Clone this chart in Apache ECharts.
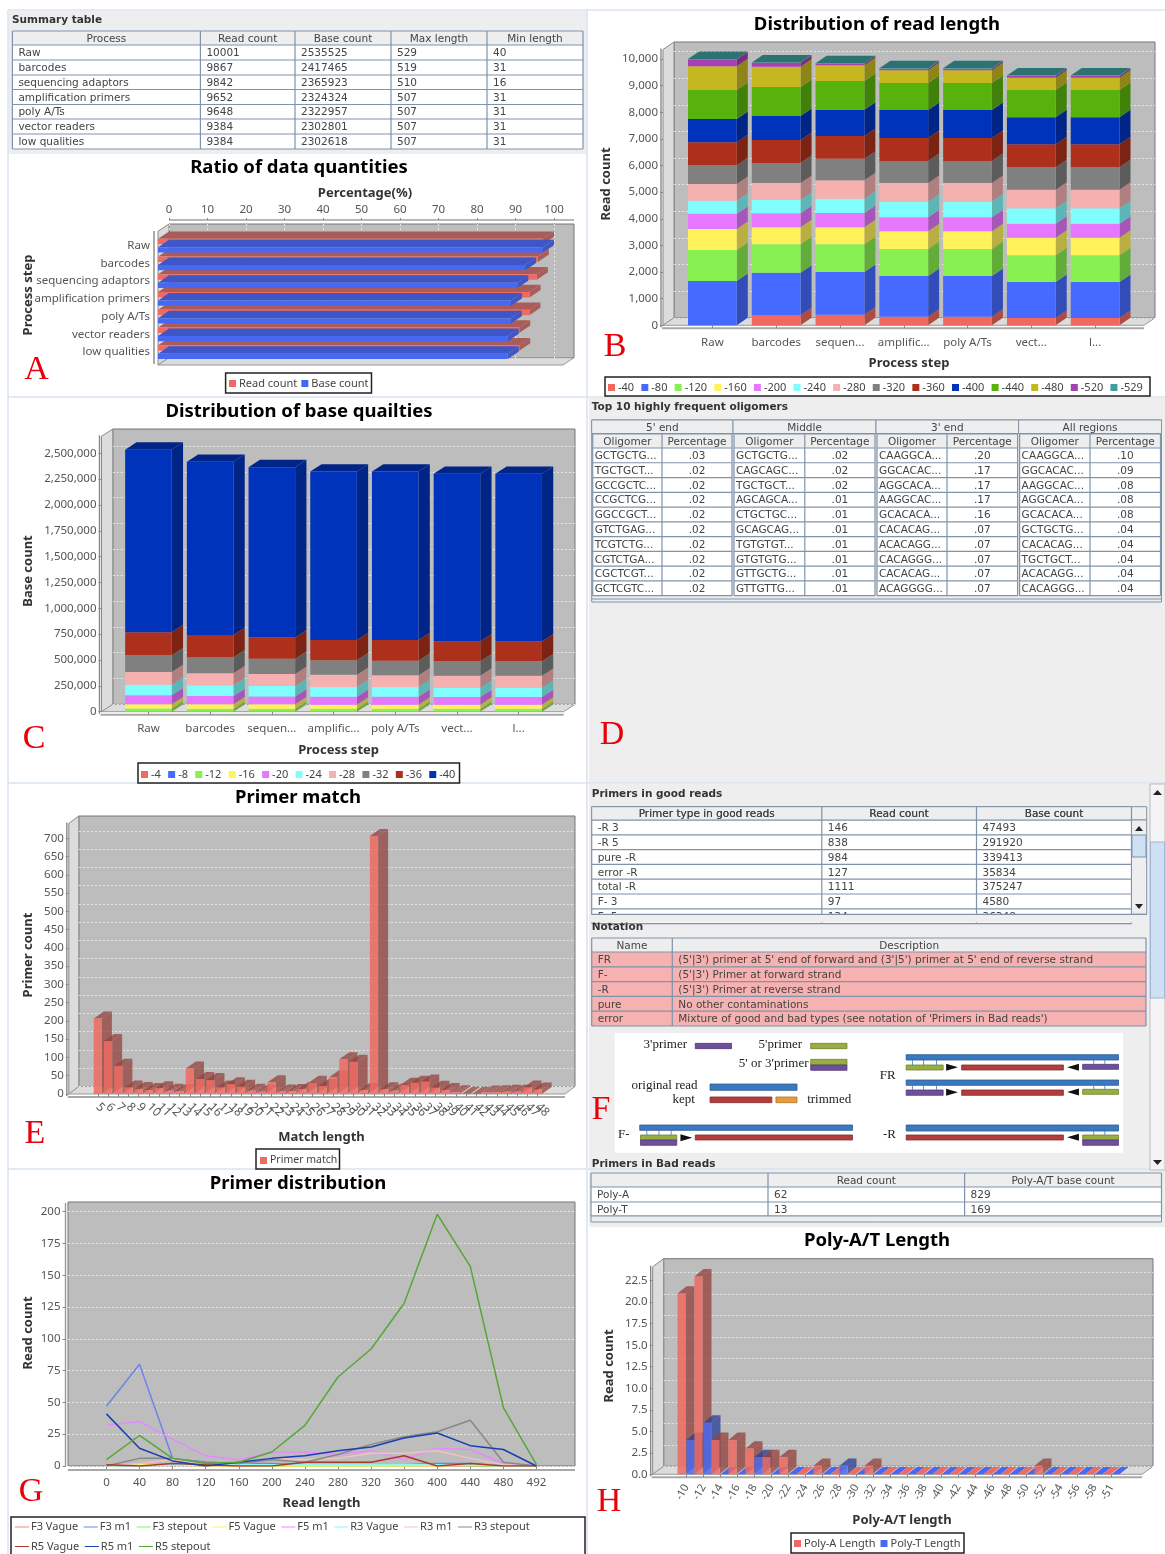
<!DOCTYPE html>
<html><head><meta charset="utf-8">
<style>html,body{margin:0;padding:0;background:#fff;overflow:hidden}#c{width:1165px;height:1554px;filter:blur(.4px)}</style>
<script src="https://cdn.jsdelivr.net/npm/echarts@6/dist/echarts.min.js"></script>
</head><body><div id="c"></div>
<script>
// ---------- DATA ----------
const stepFull=['Raw','barcodes','sequencing adaptors','amplification primers','poly A/Ts','vector readers','low qualities'];
const stepShort=['Raw','barcodes','sequen...','amplific...','poly A/Ts','vect...','l...'];
const readCount=[10001,9867,9842,9652,9648,9384,9384];
const baseCount=[2535525,2417465,2365923,2324324,2322957,2302801,2302618];
const maxLength=[529,519,510,507,507,507,507];
const minLength=[40,31,16,31,31,31,31];
const readPct=[100,98.66,98.41,96.51,96.47,93.83,93.83];
const basePct=[100,95.35,93.31,91.67,91.62,90.82,90.82];

const lengthBins=['-40','-80','-120','-160','-200','-240','-280','-320','-360','-400','-440','-480','-520','-529'];
const len40=[0,375,400,325,325,275,275];
const len80=[1665,1602,1603,1527,1527,1352,1352];
const len120=[1164,1064,1038,1014,1014,1001,1001];
const len160=[788,639,639,663,663,664,664];
const len200=[576,525,538,526,526,525,525];
const len240=[488,513,538,588,588,576,576];
const len280=[626,626,688,701,701,701,701];
const len320=[701,751,814,826,826,838,838];
const len360=[863,864,851,864,864,864,864];
const len400=[876,901,989,1051,1051,1014,1014];
const len440=[1089,1089,1076,1014,1014,1026,1026];
const len480=[889,763,588,476,476,463,463];
const len520=[262,150,68,62,59,63,63];
const len529=[14,5,12,15,14,22,22];

const qualBins=['-4','-8','-12','-16','-20','-24','-28','-32','-36','-40'];
const q4=[1000,1000,1000,1000,1000,1000,1000];
const q8=[2000,2000,2000,2000,2000,2000,2000];
const q12=[29000,26000,26000,26000,26000,26000,26000];
const q16=[39000,42000,42000,39000,39000,39000,39000];
const q20=[87000,81000,77000,77000,77000,74000,74000];
const q24=[103000,103000,100000,94000,94000,90000,90000];
const q28=[123000,116000,117000,119000,113000,116000,116000];
const q32=[161000,155000,148000,139000,142000,139000,139000];
const q36=[223000,216000,206000,197000,200000,194000,194000];
const q40=[1767525,1675465,1646923,1630324,1628957,1621801,1621618];

const matchLen=[5,6,7,8,9,10,11,12,13,14,15,16,17,18,19,20,21,22,23,24,25,26,27,28,29,30,31,32,33,34,35,36,37,38,39,40,41,42,43,44,45,46,47,48];
const primerMatch=[207,145,77,18,14,11,16,9,8,70,41,38,18,27,20,9,6,32,7,8,14,31,22,46,95,88,11,706,13,9,25,31,34,17,11,5,1,1,4,5,6,6,18,12];

const readLenCats=['0','40','80','120','160','200','240','280','320','360','400','440','480','492'];
const f3Vague=[0,0,1,0,0,1,1,1,1,0,0,0,0,0];
const f3m1=[47,80,6,3,2,2,1,1,1,1,2,2,0,0];
const f3Step=[0,1,1,1,2,0,0,0,0,0,1,0,0,0];
const f5Vague=[0,1,1,0,0,0,0,0,0,0,0,1,0,0];
const f5m1=[32,35,21,8,5,11,11,9,12,5,14,13,2,0];
const r3Vague=[0,0,1,1,1,1,1,1,1,1,1,1,0,0];
const r3m1=[0,2,5,2,2,6,5,6,10,10,12,6,1,0];
const r3Step=[0,6,6,3,2,5,3,9,17,23,27,36,3,0];
const r5Vague=[1,0,2,1,0,0,3,3,3,8,0,2,0,0];
const r5m1=[41,14,4,0,3,6,8,12,15,22,26,16,13,0];
const r5Step=[5,24,6,2,3,11,32,70,92,128,198,157,46,1];

const polyCats=['-10','-12','-14','-16','-18','-20','-22','-24','-26','-28','-30','-32','-34','-36','-38','-40','-42','-44','-46','-48','-50','-52','-54','-56','-58','-51'];
const polyA=[21,23,4,4,3,2,2,0,1,0,0,1,0,0,0,0,0,0,0,0,0,1,0,0,0,0];
const polyT=[4,6,0,0,2,0,0,0,0,1,0,0,0,0,0,0,0,0,0,0,0,0,0,0,0,0];

const summaryHead=['Process','Read count','Base count','Max length','Min length'];
const oligoGroups=["5' end",'Middle',"3' end",'All regions'];
const oligo5=['GCTGCTG...','TGCTGCT...','GCCGCTC...','CCGCTCG...','GGCCGCT...','GTCTGAG...','TCGTCTG...','CGTCTGA...','CGCTCGT...','GCTCGTC...'];
const pct5=['.03','.02','.02','.02','.02','.02','.02','.02','.02','.02'];
const oligoM=['GCTGCTG...','CAGCAGC...','TGCTGCT...','AGCAGCA...','CTGCTGC...','GCAGCAG...','TGTGTGT...','GTGTGTG...','GTTGCTG...','GTTGTTG...'];
const pctM=['.02','.02','.02','.01','.01','.01','.01','.01','.01','.01'];
const oligo3=['CAAGGCA...','GGCACAC...','AGGCACA...','AAGGCAC...','GCACACA...','CACACAG...','ACACAGG...','CACAGGG...','CACACAG...','ACAGGGG...'];
const pct3=['.20','.17','.17','.17','.16','.07','.07','.07','.07','.07'];
const oligoAll=['CAAGGCA...','GGCACAC...','AAGGCAC...','AGGCACA...','GCACACA...','GCTGCTG...','CACACAG...','TGCTGCT...','ACACAGG...','CACAGGG...'];
const pctAll=['.10','.09','.08','.08','.08','.04','.04','.04','.04','.04'];

const goodHead=['Primer type in good reads','Read count','Base count'];
const goodRows=[['-R 3','146','47493'],['-R 5','838','291920'],['pure -R','984','339413'],['error -R','127','35834'],['total -R','1111','375247'],['F- 3','97','4580'],['F- 5','134','36348']];
const noteHead=['Name','Description'];
const noteRows=[['FR',"(5'|3') primer at 5' end of forward and (3'|5') primer at 5' end of reverse strand"],['F-',"(5'|3') Primer at forward strand"],['-R',"(5'|3') Primer at reverse strand"],['pure','No other contaminations'],['error',"Mixture of good and bad types (see notation of 'Primers in Bad reads')"]];
const polyHead=['','Read count','Poly-A/T base count'];
const polyRows=[['Poly-A','62','829'],['Poly-T','13','169']];

// ---------- STYLE ----------
const lenColors=['#f1695e','#466aff','#88f050','#fff25a','#e678ff','#80fdfd','#f5b0b0','#808080','#ad301c','#0033bb','#57b30c','#c5b720','#a73fb5','#3f9e9e'];
const qualColors=['#f1695e','#466aff','#88f050','#fff25a','#e678ff','#80fdfd','#f5b0b0','#808080','#ad301c','#0033bb'];
const lineColors=['#f4867c','#6b86e6','#8cef5c','#fff25a','#e88aff','#8ef6f6','#f5c0c0','#888888','#a83a28','#1a3fb0','#55a838'];
const RED='#ef6a60',BLUE='#4668f2';
const FONT='"Noto Sans"',TFONT='"DejaVu Sans"';
const WALL='#bdbdbd',SIDE='#dcdcdc',TXT='#555',NAME='#333',PANEL='#eeeeee',GRID='#7f93ab';

function dark(c,f){const n=parseInt(c.slice(1),16);return 'rgb('+[(n>>16)&255,(n>>8)&255,n&255].map(v=>Math.round(v*f)).join(',')+')';}

// ---------- GRAPHIC HELPERS ----------
const back=[],fore=[];
function rect(arr,x,y,w,h,fill,stroke,lw){arr.push({type:'rect',silent:true,z:arr===back?-5:20,shape:{x,y,width:w,height:h},style:{fill:fill||'transparent',stroke:stroke||null,lineWidth:lw||1}});}
function line(arr,x1,y1,x2,y2,c,lw){arr.push({type:'line',silent:true,z:arr===back?-5:20,shape:{x1,y1,x2,y2},style:{stroke:c,lineWidth:lw||1}});}
function poly(arr,pts,fill,stroke){arr.push({type:'polygon',silent:true,z:arr===back?-5:20,shape:{points:pts},style:{fill,stroke:stroke||null,lineWidth:1}});}
function txt(arr,x,y,s,o){o=o||{};arr.push({type:'text',silent:true,z:arr===back?-4:21,x,y,rotation:o.rot||0,style:{x:0,y:0,text:s,fill:o.color||TXT,align:o.align||'left',verticalAlign:'middle',font:(o.weight||'normal')+' '+(o.size||11)+'px '+(o.font||TFONT)}});}
function name(x,y,s,rot){txt(fore,x,y,s,{size:13,weight:'bold',font:FONT,color:NAME,align:'center',rot:rot?Math.PI/2:0});}
function chartTitle(x,y,s){txt(fore,x,y+1,s,{size:18.5,weight:'bold',font:FONT,color:'#000',align:'center'});}
function letter(x,y,s){txt(fore,x,y,s,{size:34,font:'"Liberation Serif"',color:'#e8000b',align:'center'});}
function legendBox(x1,y1,x2,y2){rect(back,x1,y1,x2-x1,y2-y1,'#fff','#222',1.5);}
function frame3d(f){ // pseudo-3D box behind the plot
  rect(back,f.l+f.dx,f.t,f.r-f.l-f.dx,f.b-f.t-f.dy,WALL,'#777',1);
  poly(back,[[f.l,f.t+f.dy],[f.l+f.dx,f.t],[f.l+f.dx,f.b-f.dy],[f.l,f.b]],SIDE,'#888');
  poly(back,[[f.l,f.b],[f.l+f.dx,f.b-f.dy],[f.r,f.b-f.dy],[f.r-f.dx,f.b]],SIDE,'#999');
  rect(back,f.l-1,f.b+2,f.r-f.dx-f.l+1,2,'#a8a8a8');
  line(back,f.l-2,f.t+f.dy-1,f.l-2,f.b+2,'#888',1.4);
}
function table(cols,rows,head,cells,o){ // cols: x boundaries, rows: y boundaries (first row = header)
  o=o||{};const x0=cols[0],x1=cols[cols.length-1];
  rect(back,x0,rows[0],x1-x0,rows[1]-rows[0],PANEL);
  rect(back,x0,rows[1],x1-x0,rows[rows.length-1]-rows[1],o.fill||'#fff');
  rows.forEach(y=>line(back,x0,y,x1,y,GRID,1.2));
  cols.forEach(x=>line(back,x,rows[0],x,rows[rows.length-1],GRID,1.2));
  head.forEach((h,i)=>txt(back,(cols[i]+cols[i+1])/2,(rows[0]+rows[1])/2+1,h,{size:o.size||10.5,align:'center',color:'#444'}));
  cells.forEach((r,j)=>r.forEach((c,i)=>{
    const center=o.centerCols&&o.centerCols.includes(i);
    txt(back,center?(cols[i]+cols[i+1])/2:cols[i]+(o.pad||6),(rows[j+1]+rows[j+2])/2+1,c,{size:o.size||10.5,align:center?'center':'left',color:'#444'});
  }));
}
function steps(y0,h,n){const a=[];for(let i=0;i<=n;i++)a.push(y0+h*i);return a;}

// ---------- PANELS ----------
rect(back,9,11,578,143,PANEL);
rect(back,589,398,576,385,PANEL);
rect(back,589,784,576,386,PANEL);
rect(back,589,1170,576,57,PANEL);
[[8,10,8,1554],[587,10,587,1554],[8,10,1165,10],[8,397,1165,397],[8,783,1165,783],[8,1169,1165,1169]].forEach(l=>line(back,l[0],l[1],l[2],l[3],'#d8e3f1',1.6));

// Summary table
txt(back,12,20,'Summary table',{size:10.5,weight:'bold',color:'#333'});
table([12.4,200.4,295,391,487,583],[31,45,60,75,89.5,104.5,119,134,149],summaryHead,
  stepFull.map((s,i)=>[s,String(readCount[i]),String(baseCount[i]),String(maxLength[i]),String(minLength[i])]));

// Oligomer table
txt(back,591.7,407.7,'Top 10 highly frequent oligomers',{size:10.5,weight:'bold',color:'#333'});
const gx=[591.7,733,876,1018.6,1161.5],gm=[662,804.8,947,1090];
const oligoRows=steps(448,14.77,10);
rect(back,591.7,420,569.8,182,PANEL,GRID,1);
oligoGroups.forEach((g,i)=>{
  rect(back,gx[i],420,gx[i+1]-gx[i],13.5,PANEL,GRID,1);
  txt(back,(gx[i]+gx[i+1])/2,428,g,{size:10.5,align:'center',color:'#444'});
});
[[oligo5,pct5],[oligoM,pctM],[oligo3,pct3],[oligoAll,pctAll]].forEach((p,i)=>{
  table([gx[i]+1,gm[i],gx[i+1]-1],[434,...oligoRows],['Oligomer','Percentage'],p[0].map((o,j)=>[o,p[1][j]]),{centerCols:[1],pad:2});
});
line(back,591.7,599,1161.5,599,GRID,1);

// Primers in good reads
const cxF=x=>585+x*.37,cyF=y=>780+y/3;
txt(back,591.7,794.7,'Primers in good reads',{size:10.5,weight:'bold',color:'#333'});
table([591.7,821.8,976.5,1131.5],[806.7,820,...steps(834.8,14.8,6)],goodHead,goodRows);
rect(back,591,914.8,545,7.7,PANEL);
back[back.length-1].z=-3.5; // hides the clipped lower part of the last visible row
rect(back,591.7,806.7,555,13.3,PANEL,GRID,1);
[821.8,976.5,1131.5].forEach(x=>line(back,x,806.7,x,820,GRID,1.2));
goodHead.forEach((h,i)=>txt(back,[706.7,899,1054][i],814.4,h,{size:10.5,align:'center',color:'#444'}));
line(back,591.7,914.3,1146.7,914.3,GRID,1.2);
back[back.length-1].z=-3.4;
// inner scrollbar
rect(back,1131.5,820,15.2,94.3,'#eeeeee',GRID,1);
rect(back,1132,835,14,22,'#cfe0f5',GRID,1);
poly(back,[[1135,831],[1139,826],[1143,831]],'#222');
poly(back,[[1135,904],[1139,909],[1143,904]],'#222');
// outer scrollbar
rect(back,1150,784,15,386,'#f4f4f4','#bbb',1);
rect(back,1150.5,842,14,156,'#cfe0f5','#9fb6d4',1);
poly(back,[[1153,795],[1157.5,790],[1162,795]],'#222');
poly(back,[[1153,1160],[1157.5,1165],[1162,1160]],'#222');

// Notation
txt(back,591.7,927.5,'Notation',{size:10.5,weight:'bold',color:'#333'});
table([591.7,672.3,1146],[938,952,...steps(966.8,14.8,4)],noteHead,noteRows,{fill:'#f6b1b1'});

// Diagram
rect(back,614.6,1033,508.4,119.7,'#fff');
const dBlue='#3a78bf',dGreen='#97ae42',dPurple='#6d4f9c',dRed='#b33d3d',dOrange='#e89a3c';
const dBars=[[298,396,790,806,dPurple],[610,708,790,806,dGreen],[610,708,838,855,dGreen],[610,708,855,871,dPurple],
 [338,573,912,931,dBlue],[338,505,951,968,dRed],[516,573,951,968,dOrange],
 [148,723,1035,1051,dBlue],[150,248,1065,1080,dGreen],[150,248,1080,1096,dPurple],[298,723,1065,1080,dRed],
 [868,1442,1035,1053,dBlue],[868,1293,1065,1080,dRed],[1345,1442,1065,1079,dGreen],[1345,1442,1080,1096,dPurple],
 [868,1442,824,840,dBlue],[868,968,855,870,dGreen],[1018,1293,855,870,dRed],[1345,1442,853,868,dPurple],
 [868,1442,900,916,dBlue],[868,968,930,946,dPurple],[1018,1293,930,946,dRed],[1345,1442,928,943,dGreen]];
dBars.forEach(b=>rect(back,cxF(b[0]),cyF(b[2]),(b[1]-b[0])*.37,(b[3]-b[2])/3,b[4],dark(b[4],.75),.8));
[[258,290,1073,1],[1303,1335,1072,-1],[976,1008,862,1],[1303,1335,862,-1],[976,1008,937,1],[1303,1335,936,-1]].forEach(a=>{
  const s=a[3]>0?cxF(a[0]):cxF(a[1]),e=a[3]>0?cxF(a[1]):cxF(a[0]);
  poly(back,[[s,cyF(a[2])-3.5],[e,cyF(a[2])],[s,cyF(a[2])+3.5]],'#111');
});
[[167,1051,1065],[200,1051,1065],[233,1051,1065],[885,840,855],[915,840,855],[950,840,855],[1375,840,853],[1405,840,853],[885,916,930],[915,916,930],[950,916,930],[1375,916,928],[1405,916,928],[1375,1053,1065],[1405,1053,1065]].forEach(t=>line(back,cxF(t[0]),cyF(t[1]),cxF(t[0]),cyF(t[2]),dBlue,.8));
const dFont={size:13,font:'"Liberation Serif"',color:'#222',align:'center'};
[["3'primer",217,793],["5'primer",528,793],["5' or 3'primer",510,852],['original read',215,918],['kept',267,960],['trimmed',660,960],['F-',105,1063],['-R',823,1063],['FR',818,888]].forEach(t=>txt(back,cxF(t[1]),cyF(t[2]),t[0],dFont));
txt(back,591.7,1164,'Primers in Bad reads',{size:10.5,weight:'bold',color:'#333'});

// Poly table
table([591,768,964.6,1161.5],[1173,1187,1202,1216],polyHead,polyRows);
rect(back,591,1216,570.5,6,PANEL,GRID,1);

// ---------- 3D BAR RENDERERS ----------
function vbar(o){return (params,api)=>{
  const cat=api.value(0),lo=api.value(1),hi=api.value(2);
  const pL=api.coord([cat,lo]),pH=api.coord([cat,hi]);
  const band=api.size([1,0])[0],w=band*o.ratio,x=pL[0]+(o.shift||0)*band-(o.shift===undefined?w/2:0);
  const c=api.visual('color'),d=dark(c,o.dark||.72),a=o.opacity||1;
  if(hi<=lo&&!o.always)return null;
  const z2=o.order?cat*2+o.order:0,dx=o.dx,dy=o.dy,y0=pL[1],y1=pH[1],kids=[];
  kids.push({type:'polygon',z2,shape:{points:[[x+w,y1],[x+w+dx,y1-dy],[x+w+dx,y0-dy],[x+w,y0]]},style:{fill:d,opacity:a}});
  if(o.top)kids.push({type:'polygon',z2,shape:{points:[[x,y1],[x+dx,y1-dy],[x+w+dx,y1-dy],[x+w,y1]]},style:{fill:hi===lo?c:d,opacity:hi===lo?1:a}});
  if(hi>lo)kids.push({type:'rect',z2,shape:{x,y:y1,width:w,height:y0-y1},style:{fill:c,opacity:o.frontOpacity||a}});
  return {type:'group',children:kids};
};}
function hbar(o){return (params,api)=>{
  const cat=api.value(0),val=api.value(1);
  const p0=api.coord([0,cat]),p1=api.coord([val,cat]);
  const c=api.visual('color'),d=o.topColor,h=o.h,dx=o.dx,dy=o.dy,y=p0[1]+o.off,x0=p0[0]-dx,x1=p1[0]-dx;
  return {type:'group',children:[
    {type:'polygon',shape:{points:[[x0,y],[x0+dx,y-dy],[x1+dx,y-dy],[x1,y]]},style:{fill:d}},
    {type:'polygon',shape:{points:[[x1,y],[x1+dx,y-dy],[x1+dx,y+h-dy],[x1,y+h]]},style:{fill:d}},
    {type:'rect',shape:{x:x0,y,width:x1-x0,height:h},style:{fill:c}}
  ]};
};}

// ---------- AXES / GRIDS ----------
const grids=[],xAxes=[],yAxes=[],series=[],legends=[];
const lbl=(o)=>Object.assign({color:TXT,fontFamily:FONT,fontSize:11.5},o||{});
const wallLine={show:true,lineStyle:{color:'#e6e6e6',type:[2,2],width:1}};
function addGrid(l,r,t,b){grids.push({left:l,top:t,width:r-l,height:b-t,containLabel:false});return grids.length-1;}
function vChart(c){
  // front plane carries the marks and labelled axes; the wall plane the gridlines, sharing the value scale
  frame3d(c.frame);
  const g=addGrid(c.l,c.r,c.t,c.b);
  xAxes.push({gridIndex:g,type:'category',data:c.cats,position:'bottom',offset:3,axisLine:{show:false},axisTick:{show:true,alignWithLabel:true,length:3,lineStyle:{color:'#888'}},
    axisLabel:lbl({interval:0,rotate:c.rot||0,margin:c.margin||8,fontSize:c.xSize||11.5})});
  yAxes.push({gridIndex:g,type:'value',min:0,max:c.max,interval:c.int,offset:c.l-c.frame.l,axisLine:{show:false},axisTick:{show:true,length:3,lineStyle:{color:'#888'}},splitLine:{show:false},
    axisLabel:lbl({margin:5,formatter:c.fmt})});
  const w=addGrid(c.frame.l+c.frame.dx,c.frame.r,c.t-c.frame.dy,c.b-c.frame.dy);
  xAxes.push({gridIndex:w,type:'value',min:0,max:1,show:false});
  yAxes.push({gridIndex:w,type:'value',min:0,max:c.max,interval:c.int,axisLine:{show:false},axisTick:{show:false},axisLabel:{show:false},splitLine:wallLine});
  return xAxes.length-2;
}
function stacked(ax,names,cols,colors,o){
  const acc=cols[0].map(()=>0);
  cols.forEach((vals,i)=>{
    const data=vals.map((v,k)=>{const r=[k,acc[k],acc[k]+v];acc[k]+=v;return r;});
    series.push({type:'custom',name:names[i],xAxisIndex:ax,yAxisIndex:ax,clip:false,itemStyle:{color:colors[i]},encode:{x:0,y:[1,2]},data,
      renderItem:vbar(Object.assign({},o,{top:i===cols.length-1}))});
  });
}
const legendText={color:'#444',fontFamily:FONT,fontSize:11};
function legend(names,colors,left,top,gap,size){
  legends.push({left,top,padding:0,itemGap:gap,itemWidth:7,itemHeight:7,icon:'rect',textStyle:Object.assign({},legendText,{padding:[0,0,0,-2],fontSize:size||11}),selectedMode:false,
    data:names.map((n,i)=>({name:n,itemStyle:{color:colors[i]}}))});
}
const commas=v=>Number(v).toLocaleString('en-US');

// ---- A
(function(){
  const F={l:158,r:574,t:224,b:365,dx:11,dy:7.3};
  rect(back,F.l+F.dx,F.t,F.r-F.l-F.dx,F.b-F.t-F.dy,WALL,'#777',1);
  poly(back,[[F.l,F.t+F.dy],[F.l+F.dx,F.t],[F.l+F.dx,F.b-F.dy],[F.l,F.b]],SIDE,'#888');
  poly(back,[[F.l,F.b],[F.l+F.dx,F.b-F.dy],[F.r,F.b-F.dy],[F.r-F.dx,F.b]],SIDE,'#999');
  line(back,169,220,574,220,'#a0a0a0',1.6);
  line(back,154,231,154,364,'#a0a0a0',1.8);
  chartTitle(299,167,'Ratio of data quantities');
  name(365,193,'Percentage(%)');
  name(28,295,'Process step',true);
  letter(36.5,370,'A');
  legendBox(225.6,373,371.5,393);
  const g=addGrid(169,554,236.8,361);
  xAxes.push({gridIndex:g,type:'value',position:'top',min:0,max:100,interval:10,offset:16.8,axisLine:{show:false},axisTick:{show:true,length:2,lineStyle:{color:'#888'}},splitLine:{show:false},axisLabel:lbl({margin:4})});
  yAxes.push({gridIndex:g,type:'category',inverse:true,data:stepFull,offset:15,axisLine:{show:false},axisTick:{show:false},axisLabel:lbl({margin:4,interval:0})});
  const w=addGrid(169,554,224,358);
  xAxes.push({gridIndex:w,type:'value',min:0,max:100,interval:10,axisLine:{show:false},axisTick:{show:false},axisLabel:{show:false},splitLine:wallLine});
  yAxes.push({gridIndex:w,type:'value',min:0,max:1,show:false});
  const ax=xAxes.length-2;
  const mk=(nm,vals,col,off,topColor)=>series.push({type:'custom',name:nm,xAxisIndex:ax,yAxisIndex:ax,clip:false,itemStyle:{color:col},encode:{x:1,y:0},data:vals.map((v,k)=>[k,v]),renderItem:hbar({h:5.3,dx:11,dy:7.3,off,topColor})});
  mk('Read count',readPct,RED,-6.8,'#a95c5a');
  mk('Base count',basePct,BLUE,1.5,'#3f56c6');
  legend(['Read count','Base count'],[RED,BLUE],229,378,4);
})();

// ---- B
(function(){
  const ax=vChart({frame:{l:663,r:1155,t:42,b:325.3,dx:11,dy:7.5},l:680.5,r:1127,t:59,b:325.3,cats:stepShort,max:10000,int:1000,fmt:commas});
  stacked(ax,lengthBins,[len40,len80,len120,len160,len200,len240,len280,len320,len360,len400,len440,len480,len520,len529],lenColors,{ratio:.765,dx:11,dy:7.5});
  chartTitle(877,24,'Distribution of read length');
  name(909,363,'Process step');
  name(606.5,184,'Read count',true);
  letter(615,347,'B');
  legendBox(605,377,1150,396);
  legend(lengthBins,lenColors,608,382,7.2);
})();

// ---- C
(function(){
  const ax=vChart({frame:{l:101.5,r:575,t:429,b:711.7,dx:11.3,dy:7.3},l:117.6,r:549.5,t:453.3,b:711.7,cats:stepShort,max:2500000,int:250000,fmt:commas});
  stacked(ax,qualBins,[q4,q8,q12,q16,q20,q24,q28,q32,q36,q40],qualColors,{ratio:.755,dx:11.3,dy:7.3});
  chartTitle(299,411,'Distribution of base quailties');
  name(338.6,750,'Process step');
  name(28,571,'Base count',true);
  letter(34,739,'C');
  legendBox(138,763,459.5,783);
  legend(qualBins,qualColors,141,769,7.3);
})();

// ---- E
(function(){
  const ax=vChart({frame:{l:68.8,r:575,t:816,b:1094,dx:10,dy:7.5},l:92.7,r:542.8,t:838.3,b:1094,cats:matchLen.map(String),max:700,int:50,rot:-45,margin:8,xSize:12});
  series.push({type:'custom',name:'Primer match',xAxisIndex:ax,yAxisIndex:ax,clip:false,itemStyle:{color:RED},encode:{x:0,y:[1,2]},data:primerMatch.map((v,k)=>[k,0,v]),
    renderItem:vbar({ratio:.8,dx:10,dy:7,opacity:.75,frontOpacity:.85,top:true,order:1,dark:.62})});
  chartTitle(298,797,'Primer match');
  name(321.5,1137,'Match length');
  name(28,955,'Primer count',true);
  letter(35,1134,'E');
  legendBox(256,1149,339.5,1169);
  legend(['Primer match'],[RED],260,1155,5,10.5);
})();

// ---- G
(function(){
  rect(back,68,1202,507,264,WALL,'#777',1);
  line(back,65.5,1203,65.5,1467,'#999',1.4);
  rect(back,68,1469,507,2,'#a8a8a8');
  const g=addGrid(89.9,553,1211.7,1466);
  xAxes.push({gridIndex:g,type:'category',data:readLenCats,offset:3,axisLine:{show:false},axisTick:{show:true,alignWithLabel:true,length:3,lineStyle:{color:'#888'}},axisLabel:lbl({interval:0,margin:8})});
  yAxes.push({gridIndex:g,type:'value',min:0,max:200,interval:25,offset:24.4,axisLine:{show:false},axisTick:{show:true,length:3,lineStyle:{color:'#888'}},splitLine:{show:false},axisLabel:lbl({margin:5})});
  const w=addGrid(68,575,1211.7,1466);
  xAxes.push({gridIndex:w,type:'value',min:0,max:1,show:false});
  yAxes.push({gridIndex:w,type:'value',min:0,max:200,interval:25,axisLine:{show:false},axisTick:{show:false},axisLabel:{show:false},splitLine:wallLine});
  const ax=xAxes.length-2;
  const names=['F3 Vague','F3 m1','F3 stepout','F5 Vague','F5 m1','R3 Vague','R3 m1','R3 stepout','R5 Vague','R5 m1','R5 stepout'];
  [f3Vague,f3m1,f3Step,f5Vague,f5m1,r3Vague,r3m1,r3Step,r5Vague,r5m1,r5Step].forEach((d,i)=>series.push({type:'line',name:names[i],xAxisIndex:ax,yAxisIndex:ax,data:d,symbol:'none',lineStyle:{color:lineColors[i],width:1.5},itemStyle:{color:lineColors[i]}}));
  chartTitle(298,1183,'Primer distribution');
  name(321.5,1503,'Read length');
  name(28,1333,'Read count',true);
  letter(31,1492,'G');
  rect(back,11,1517,574,40,'#fff','#222',1.5);
  legends.push({left:15,top:1520,width:560,padding:0,itemGap:5.5,itemWidth:14,itemHeight:8,selectedMode:false,textStyle:Object.assign({},legendText,{padding:[0,0,0,-3],lineHeight:14}),data:names.map((n,i)=>({name:n,icon:'path://M0,4L14,4L14,5L0,5Z',itemStyle:{color:lineColors[i]}}))});
})();

// ---- H
(function(){
  const ax=vChart({frame:{l:652.7,r:1153,t:1258.7,b:1474.3,dx:11,dy:8},l:678,r:1120,t:1280.7,b:1474.3,cats:polyCats,max:22.5,int:2.5,rot:60,margin:8,xSize:11,fmt:v=>Number(v).toFixed(1)});
  const mk=(nm,vals,col,shift,order)=>series.push({type:'custom',name:nm,xAxisIndex:ax,yAxisIndex:ax,clip:false,itemStyle:{color:col},encode:{x:0,y:[1,2]},data:vals.map((v,k)=>[k,0,v]),
    renderItem:vbar({ratio:8/17,shift,dx:9,dy:7.3,opacity:.78,frontOpacity:.85,top:true,always:true,order,dark:.62})});
  mk('Poly-A Length',polyA,RED,-.53,1);
  mk('Poly-T Length',polyT,BLUE,0,2);
  chartTitle(877,1240,'Poly-A/T Length');
  name(902,1520,'Poly-A/T length');
  name(609,1366,'Read count',true);
  letter(609,1502,'H');
  legendBox(791,1533,964,1553);
  legend(['Poly-A Length','Poly-T Length'],[RED,BLUE],794,1538,5);
})();
letter(601,1110,'F');
letter(612,735,'D');

// ---------- CHART ----------
const chart=echarts.init(document.getElementById('c'),null,{width:1165,height:1554});
chart.setOption({animation:false,backgroundColor:'#fff',tooltip:{show:false},
  graphic:{elements:back.concat(fore)},
  grid:grids,xAxis:xAxes,yAxis:yAxes,legend:legends,series});
</script></body></html>
